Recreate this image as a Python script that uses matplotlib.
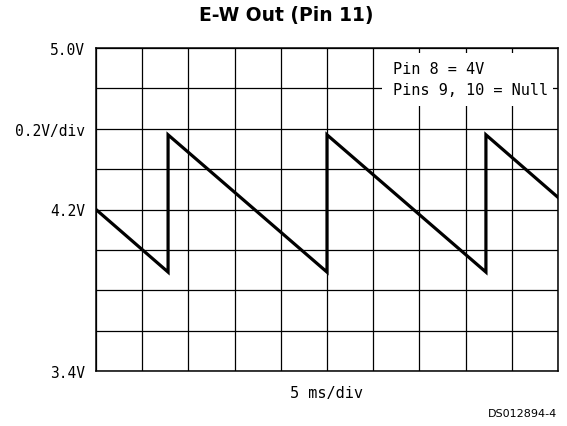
import matplotlib.pyplot as plt
from matplotlib.patches import Rectangle

# sawtooth trace, time in ms (5 ms/div), level in volts
t_ms = [0.0, 7.8, 7.8, 25.0, 25.0, 42.2, 42.2, 50.0]
volts = [4.20, 3.89, 4.57, 3.89, 4.57, 3.89, 4.57, 4.26]

x_grid = [0, 5, 10, 15, 20, 25, 30, 35, 40, 45, 50]
y_grid = [3.4, 3.6, 3.8, 4.0, 4.2, 4.4, 4.6, 4.8, 5.0]
y_labels = ['3.4V', '', '', '', '4.2V', '', '0.2V/div', '', '5.0V']
notes = ['Pin 8 = 4V', 'Pins 9, 10 = Null']

mono = 'DejaVu Sans Mono'

fig = plt.figure(figsize=(5.67, 4.27), dpi=100)
ax = fig.add_axes([96 / 567, 55 / 427, 462 / 567, 323 / 427])

ax.plot(t_ms, volts, color='black', linewidth=2.3, solid_joinstyle='miter', zorder=4)

ax.set_xlim(0, 50)
ax.set_ylim(3.4, 5.0)
ax.set_xticks(x_grid)
ax.set_xticklabels([])
ax.set_yticks(y_grid)
ax.set_yticklabels(y_labels, fontfamily=mono, fontsize=10.5)
ax.tick_params(length=0, pad=8)
ax.grid(True, color='black', linewidth=0.9)
ax.set_axisbelow(True)
for s in ax.spines.values():
    s.set_linewidth(1.1)

# white note box over the grid
ax.add_patch(Rectangle((0.619, 0.820), 0.370, 0.165, transform=ax.transAxes,
                       facecolor='white', edgecolor='none', zorder=3))
ax.text(0.643, 0.938, notes[0], transform=ax.transAxes, fontfamily=mono,
        fontsize=11, va='center', ha='left', zorder=5)
ax.text(0.643, 0.870, notes[1], transform=ax.transAxes, fontfamily=mono,
        fontsize=11, va='center', ha='left', zorder=5)

fig.text(0.5767, 1 - 394 / 427, '5 ms/div', fontfamily=mono, fontsize=11,
         ha='center', va='center')
fig.text(286.5 / 567, 1 - 16 / 427, 'E-W Out (Pin 11)', fontfamily='DejaVu Sans',
         fontweight='bold', fontsize=13.5, ha='center', va='center')
fig.text(557 / 567, 1 - 414 / 427, 'DS012894-4', fontfamily='DejaVu Sans',
         fontsize=8, ha='right', va='center')

fig.savefig('out.png', dpi=100)
